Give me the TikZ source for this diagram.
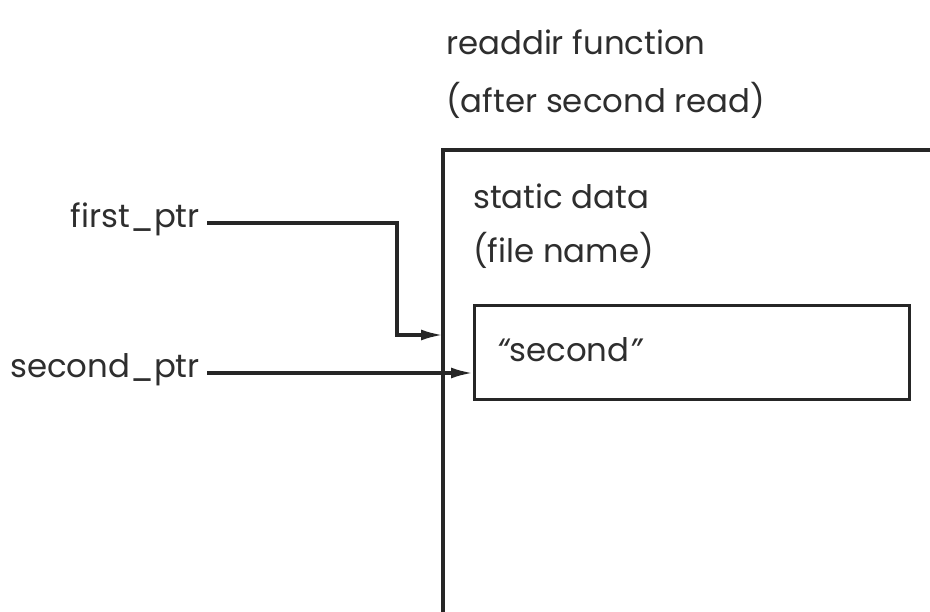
\documentclass[tikz,border=0pt]{standalone}
\usepackage{fontspec}
\setmainfont{Poppins}
\usetikzlibrary{arrows.meta}
\begin{document}
\begin{tikzpicture}[x=1bp,y=-1bp,
  lbl/.style={inner sep=0pt,font=\fontsize{32.5}{38}\selectfont,text=black!82},
  wire/.style={line width=3.4bp,draw=black!85},
  ptr/.style={line width=3.2bp,draw=black!85,-{Latex[length=22bp,width=11bp]}}]
\useasboundingbox (0,0) rectangle (930,612);
\fill[white] (0,0) rectangle (930,612);
\clip (0,0) rectangle (930,612);
% outer frame (open at right and bottom)
\coordinate (ob) at (443,620);
\coordinate (otl) at (443,150);
\coordinate (otr) at (940,150);
\draw[wire] (ob) -- (otl) -- (otr);
\coordinate (oin) at (443,335);
% inner box
\node[draw=black!85,line width=3.4bp,minimum width=435bp,minimum height=94bp,inner sep=0pt,anchor=north west] (inner) at (473,304) {};
\node[lbl,anchor=west] (sec) at (497,350) {\itshape\char"201C\upshape second\itshape\char"201D};
% texts
\node[lbl,anchor=west] (t1) at (446,42) {readdir function};
\node[lbl,anchor=west] (t2) at (446,100) {(after second read)};
\node[lbl,anchor=west] (s1) at (473,196) {static data};
\node[lbl,anchor=west] (s2) at (473,250) {(file name)};
\node[lbl,anchor=east] (fp) at (200,219) {first\_ptr};
\node[lbl,anchor=east] (sp) at (200,370) {second\_ptr};
% connectors
\draw[ptr] ([xshift=7bp]fp.east |- 0,223) -- (397,223) -- (397,335) -- (oin);
\draw[ptr] ([xshift=7bp]sp.east |- 0,373) -- (inner.west |- 0,373);
\end{tikzpicture}
\end{document}
